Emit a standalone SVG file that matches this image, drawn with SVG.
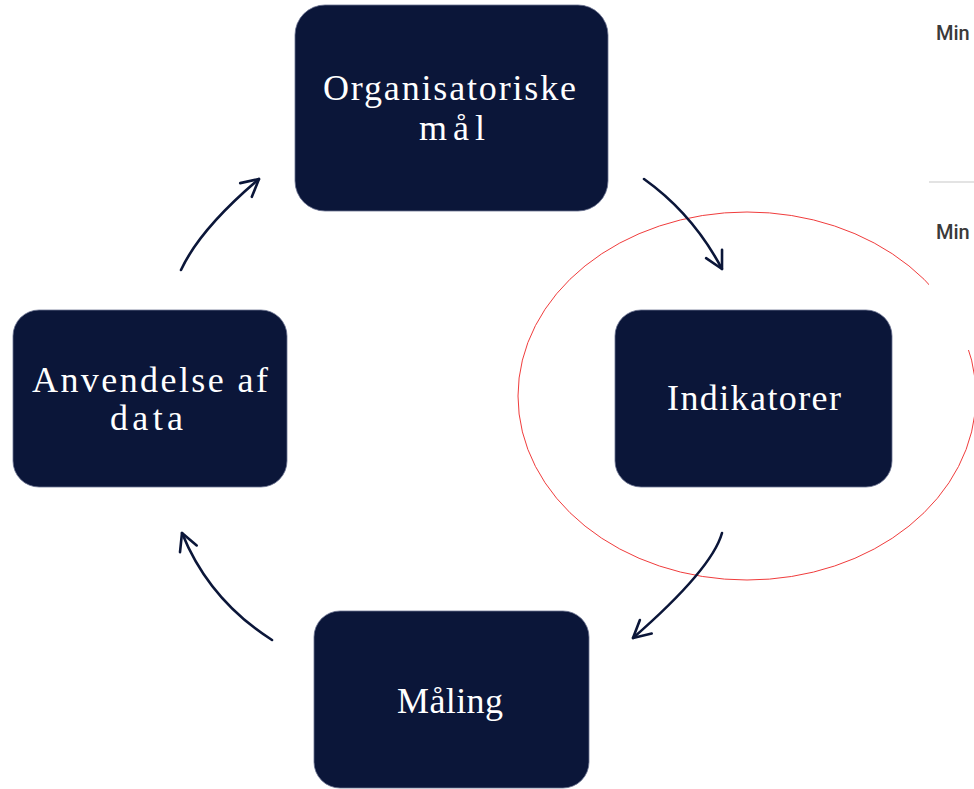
<svg xmlns="http://www.w3.org/2000/svg" width="974" height="789" viewBox="0 0 974 789">
<style>
.node{fill:#0b1639;stroke:#6b7290;stroke-width:0.8}
.lbl{font-family:"Liberation Serif","Times New Roman",serif;font-size:36px;fill:#ffffff}
.conn{fill:none;stroke:#0b1639;stroke-width:2.6;stroke-linecap:round}
.side{font-family:"Roboto","Liberation Sans",sans-serif;font-size:20px;font-weight:500;fill:#3a3a3a}
</style>
<defs>
<marker id="chev" markerUnits="userSpaceOnUse" markerWidth="40" markerHeight="40" viewBox="-20 -20 40 40" refX="0" refY="0" orient="auto" overflow="visible">
<path d="M-17,-9 L0,0 L-17,9" fill="none" stroke="#0b1639" stroke-width="2.6" stroke-linecap="round" stroke-linejoin="round"/>
</marker>
</defs>
<rect width="974" height="789" fill="#ffffff"/>
<ellipse cx="747" cy="396" rx="229" ry="184" fill="none" stroke="#f03c3c" stroke-width="1"/>
<rect x="929" y="190" width="45" height="160" fill="#ffffff"/>
<line x1="929" y1="182" x2="974" y2="182" stroke="#e3e3e3" stroke-width="2"/>
<text class="side" x="936" y="40">Min</text>
<text class="side" x="936" y="239">Min</text>
<g id="connectors">
<path class="conn" d="M644,179 Q693,214 722,269" marker-end="url(#chev)"/>
<path class="conn" d="M722,533 Q712,569 633,638" marker-end="url(#chev)"/>
<path class="conn" d="M272,640 Q209,600 182,533" marker-end="url(#chev)"/>
<path class="conn" d="M181,270 Q200,229 259,179" marker-end="url(#chev)"/>
</g>
<g id="node-organisatoriske">
<rect class="node" x="295" y="5" width="313" height="206" rx="30"/>
<text class="lbl" x="323" y="100" textLength="253" lengthAdjust="spacing">Organisatoriske</text>
<text class="lbl" x="419" y="140" textLength="66" lengthAdjust="spacing">mål</text>
</g>
<g id="node-indikatorer">
<rect class="node" x="615" y="310" width="277" height="177" rx="26"/>
<text class="lbl" x="667" y="410" textLength="174" lengthAdjust="spacing">Indikatorer</text>
</g>
<g id="node-maaling">
<rect class="node" x="314" y="611" width="275" height="177" rx="26"/>
<text class="lbl" x="397" y="713" textLength="106" lengthAdjust="spacing">Måling</text>
</g>
<g id="node-anvendelse">
<rect class="node" x="13" y="310" width="274" height="177" rx="26"/>
<text class="lbl" x="32" y="392" textLength="236" lengthAdjust="spacing">Anvendelse af</text>
<text class="lbl" x="110" y="430" textLength="73" lengthAdjust="spacing">data</text>
</g>
</svg>
